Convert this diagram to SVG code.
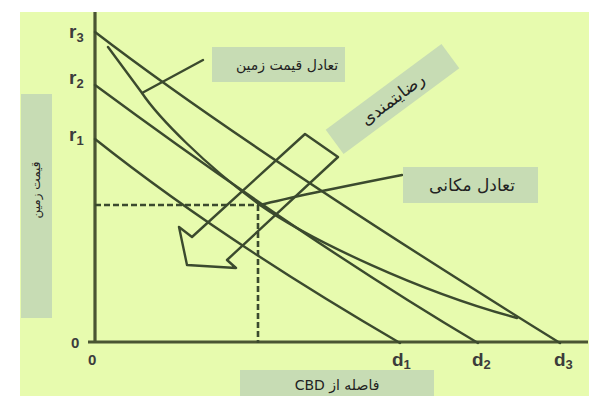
<svg xmlns="http://www.w3.org/2000/svg" width="589" height="396" viewBox="0 0 589 396">
<style>
.bg{fill:#e7fbae}
.box{fill:#c7dcb4}
.ln{fill:none;stroke:#3b4a2e;stroke-width:2.4;stroke-linecap:round;stroke-linejoin:round}
.ax{fill:none;stroke:#4a5533;stroke-width:3.2}
.dash{fill:none;stroke:#3b4a2e;stroke-width:2.6;stroke-dasharray:6 3}
.lbl{font-family:"Liberation Sans",Arial,sans-serif;font-weight:bold;fill:#3c3c3c;font-size:19px}
.sub{font-size:13px}
.fa{font-family:"DejaVu Sans",sans-serif;font-size:14px;fill:#222;text-anchor:middle}
</style>
<rect class="bg" x="20" y="12" width="569" height="384"/>

<!-- axes -->
<path class="ax" d="M95,12 V343 M88,342 H588"/>

<!-- bid-rent lines -->
<path class="ln" d="M95,32 Q246,148 560,343"/>
<path class="ln" d="M95,85 Q309,243 478,343"/>
<path class="ln" d="M95,139 Q218,237 400,343"/>
<!-- envelope -->
<path class="ln" d="M108,47 L142,93 C158,117 205,165 260,205 C310,240 420,292 517,318"/>

<!-- dashed guides -->
<path class="dash" d="M95,205 H259 M258,205 V343"/>

<!-- hollow arrow -->
<path class="ln" d="M305,134 L338,157 L227,260 L236,268 L187,265 L179,227 L192,237 Z"/>

<!-- axis labels -->
<text class="lbl" x="69" y="38">r<tspan class="sub" dy="4">3</tspan></text>
<text class="lbl" x="69" y="84">r<tspan class="sub" dy="4">2</tspan></text>
<text class="lbl" x="69" y="141">r<tspan class="sub" dy="4">1</tspan></text>
<text class="lbl" x="71" y="348" style="font-size:15px">0</text>
<text class="lbl" x="88" y="365" style="font-size:15px">0</text>
<text class="lbl" x="392" y="366">d<tspan class="sub" dy="3">1</tspan></text>
<text class="lbl" x="472" y="366">d<tspan class="sub" dy="3">2</tspan></text>
<text class="lbl" x="554" y="366">d<tspan class="sub" dy="3">3</tspan></text>

<g id="connectors">
<path class="ln" d="M142,93 L203,60"/>
<path class="ln" d="M260,205 Q300,195 402,175"/>
</g>

<g id="land-price-equilibrium">
<rect class="box" x="212" y="47" width="133" height="35"/>
<text class="fa" x="287" y="70" direction="rtl">تعادل قیمت زمین</text>
</g>

<g id="satisfaction" transform="translate(392.5,99) rotate(-36.5)">
<rect class="box" x="-72" y="-15" width="144" height="30"/>
<text class="fa" x="0" y="6" direction="rtl" style="font-size:17px">رضایتمندی</text>
</g>

<g id="spatial-equilibrium">
<rect class="box" x="403" y="167" width="135" height="36"/>
<text class="fa" x="472" y="191" direction="rtl" style="font-size:17px">تعادل مکانی</text>
</g>

<g id="y-axis-label">
<rect class="box" x="21" y="94" width="31" height="224"/>
<text class="fa" transform="translate(40,190) rotate(-90)" x="0" y="0" direction="rtl" style="font-size:12px">قیمت زمین</text>
</g>

<g id="x-axis-label">
<rect class="box" x="240" y="370" width="194" height="30"/>
<text class="fa" x="337" y="390" direction="rtl">فاصله از CBD</text>
</g>
</svg>
